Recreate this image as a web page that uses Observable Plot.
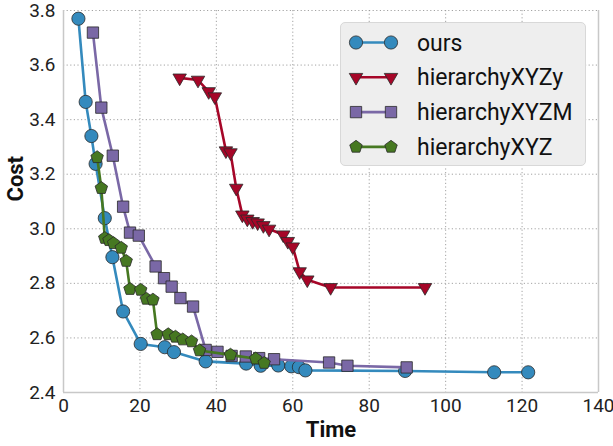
<!DOCTYPE html>
<html>
<head>
<meta charset="utf-8">
<script src="https://cdn.jsdelivr.net/npm/d3@7"></script>
<script src="https://cdn.jsdelivr.net/npm/@observablehq/plot@0.6"></script>
<style>
  html, body { margin: 0; padding: 0; background: #fff; }
  #wrap { position: relative; width: 613px; height: 446px; font-family: Roboto, "DejaVu Sans", sans-serif; }
  #legend { position: absolute; left: 340px; top: 22px; width: 246px; height: 144px;
    background: #eeeeee; border: 1px solid #d8d8d8; border-radius: 5px; box-sizing: border-box; }
</style>
</head>
<body>
<div id="wrap"><div id="legend"></div></div>
<script>
// ---- data ----
const seriesNames = ["ours", "hierarchyXYZy", "hierarchyXYZM", "hierarchyXYZ"];
const seriesColors = ["#348ABD", "#A60628", "#7A68A6", "#467821"];

const oursTime = [3.9, 5.8, 7.3, 8.4, 10.8, 12.8, 15.6, 20.2, 26.5, 28.9, 37.2, 47.8, 51.6, 56.2, 59.6, 61.6, 63.3, 89.4, 112.7, 121.6];
const oursCost = [3.77, 3.465, 3.34, 3.238, 3.039, 2.896, 2.697, 2.578, 2.566, 2.548, 2.514, 2.506, 2.498, 2.499, 2.496, 2.493, 2.481, 2.479, 2.474, 2.474];

const xyzyTime = [30.4, 35.2, 38.0, 39.6, 42.5, 43.7, 45.2, 46.8, 48.1, 49.5, 50.8, 52.3, 53.8, 57.5, 58.7, 60.0, 61.8, 63.8, 69.9, 94.6];
const xyzyCost = [3.553, 3.545, 3.503, 3.484, 3.286, 3.279, 3.149, 3.051, 3.036, 3.027, 3.022, 3.012, 2.999, 2.978, 2.954, 2.934, 2.843, 2.813, 2.785, 2.785];

const xyzmTime = [7.7, 9.9, 12.9, 15.6, 17.4, 19.7, 24.1, 26.3, 28.3, 30.6, 33.9, 37.2, 40.3, 44.0, 47.7, 51.2, 55.1, 69.5, 74.3, 89.8];
const xyzmCost = [3.719, 3.444, 3.268, 3.081, 2.986, 2.975, 2.862, 2.819, 2.788, 2.746, 2.715, 2.556, 2.549, 2.534, 2.532, 2.526, 2.522, 2.510, 2.498, 2.492];

const xyzTime = [8.8, 9.9, 10.8, 11.9, 13.1, 15.1, 16.4, 17.4, 20.2, 21.7, 23.4, 24.5, 27.4, 29.3, 31.2, 33.5, 35.6, 43.7, 50.3, 52.5];
const xyzCost = [3.262, 3.149, 2.966, 2.958, 2.947, 2.930, 2.882, 2.779, 2.776, 2.743, 2.740, 2.613, 2.613, 2.604, 2.594, 2.587, 2.554, 2.538, 2.524, 2.508];

const xTicks = [0, 20, 40, 60, 80, 100, 120, 140];
const yTicks = [2.4, 2.6, 2.8, 3.0, 3.2, 3.4, 3.6, 3.8];

// ---- symbols ----
const pentagon = {
  draw(context, size) {
    const R = Math.sqrt(size / (2.5 * Math.sin(2 * Math.PI / 5)));
    for (let i = 0; i < 5; i++) {
      const a = -Math.PI / 2 + i * 2 * Math.PI / 5;
      const x = R * Math.cos(a), y = R * Math.sin(a);
      if (i === 0) context.moveTo(x, y); else context.lineTo(x, y);
    }
    context.closePath();
  }
};
const seriesSymbols = ["circle", "triangle", "square", pentagon];
const seriesRotate = [0, 180, 0, 0];
const seriesR = [6.6, 5.0, 6.4, 5.7];

const series = [
  [oursTime, oursCost], [xyzyTime, xyzyCost], [xyzmTime, xyzmCost], [xyzTime, xyzCost]
].map(([t, c], k) => t.map((x, i) => ({x, y: c[i], s: seriesNames[k]})));

const marks = [
  Plot.gridX(xTicks, {stroke: "#999", strokeOpacity: 0.9, strokeDasharray: "1.2,2.4", strokeWidth: 1}),
  Plot.gridY(yTicks, {stroke: "#999", strokeOpacity: 0.9, strokeDasharray: "1.2,2.4", strokeWidth: 1}),
  Plot.ruleX([0, 140], {stroke: "#c8c8c8", strokeWidth: 1.5}),
  Plot.ruleY([2.4], {stroke: "#c8c8c8", strokeWidth: 1.5}),
  Plot.axisX(xTicks, {tickSize: 0, tickPadding: 6, fontSize: 19, label: null, fill: "#222"}),
  Plot.axisY(yTicks, {tickSize: 0, tickPadding: 8, fontSize: 19, label: null, tickFormat: d3.format(".1f"), fill: "#222"}),
];
series.forEach((data, k) => {
  marks.push(Plot.line(data, {x: "x", y: "y", stroke: seriesColors[k], strokeWidth: 2.6}));
  marks.push(Plot.dot(data, {x: "x", y: "y", fill: seriesColors[k], stroke: "#2a2a2a", strokeWidth: 0.8,
    symbol: seriesSymbols[k], r: seriesR[k], rotate: seriesRotate[k]}));
});

const chart = Plot.plot({
  width: 613, height: 446,
  marginLeft: 63, marginRight: 15, marginTop: 10, marginBottom: 54,
  style: {fontFamily: "Roboto, 'DejaVu Sans', sans-serif", background: "#fff", overflow: "visible"},
  x: {domain: [0, 140]},
  y: {domain: [2.4, 3.8]},
  marks: [
    ...marks,
    Plot.text(["Time"], {frameAnchor: "bottom", dy: 44, fontSize: 22, fontWeight: "bold", fill: "#111"}),
    Plot.text(["Cost"], {frameAnchor: "left", dx: -48, rotate: -90, fontSize: 22, fontWeight: "bold", fill: "#111"})
  ]
});
document.getElementById("wrap").prepend(chart);

// ---- legend ----
const legend = d3.select("#legend").append("svg").attr("width", 246).attr("height", 144);
const sizeFor = r => Math.PI * r * r;
seriesNames.forEach((name, k) => {
  const cy = 19.5 + k * 34.8;
  const g = legend.append("g");
  g.append("line").attr("x1", 15).attr("x2", 50).attr("y1", cy).attr("y2", cy)
    .attr("stroke", seriesColors[k]).attr("stroke-width", 2.6);
  const sym = typeof seriesSymbols[k] === "string"
    ? {circle: d3.symbolCircle, triangle: d3.symbolTriangle, square: d3.symbolSquare}[seriesSymbols[k]]
    : seriesSymbols[k];
  [15, 50].forEach(cx => {
    g.append("path").attr("d", d3.symbol(sym, sizeFor(seriesR[k]))())
      .attr("transform", `translate(${cx},${cy}) rotate(${seriesRotate[k]})`)
      .attr("fill", seriesColors[k]).attr("stroke", "#2a2a2a").attr("stroke-width", 0.8);
  });
  g.append("text").attr("x", 76).attr("y", cy).attr("dy", "0.35em")
    .attr("font-size", 23).attr("fill", "#111").attr("font-family", "Roboto, 'DejaVu Sans', sans-serif")
    .text(name);
});
</script>
</body>
</html>
